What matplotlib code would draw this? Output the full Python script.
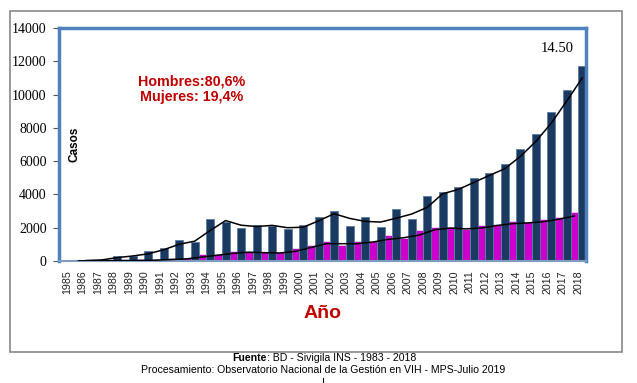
import matplotlib.pyplot as plt
import numpy as np
import pandas as pd
from matplotlib.patches import Rectangle
from matplotlib.lines import Line2D

# Data
years = list(range(1985, 2019))
hombres = [20, 40, 90, 320, 280, 580, 770, 1240, 1140, 2520, 2340, 1960, 2180, 2100, 1900,
           2160, 2660, 3020, 2100, 2660, 2020, 3120, 2520, 3920, 4160, 4430, 5000, 5270,
           5810, 6730, 7610, 8930, 10270, 11710]
mujeres = [5, 10, 20, 30, 30, 40, 60, 120, 140, 340, 360, 560, 500, 500, 460,
           700, 920, 1160, 920, 1160, 1120, 1480, 1320, 1800, 1960, 2000, 1860, 2100,
           2160, 2320, 2260, 2460, 2560, 2860]

W, H = 637, 383
fig = plt.figure(figsize=(W / 100, H / 100), dpi=100)

# outer chart frame
fig.patches.append(Rectangle((10 / W, 1 - 352 / H), 612 / W, 341 / H, transform=fig.transFigure,
                             fill=False, edgecolor='#878787', linewidth=1.2))

ax = fig.add_axes([59 / W, 1 - 261 / H, 527 / W, 233 / H])

x = np.arange(len(years))
ax.bar(x - 0.25, mujeres, width=0.5, color='#CC00CC', edgecolor='#B000B0', linewidth=0.3, zorder=2)
ax.bar(x + 0.25, hombres, width=0.5, color='#1B3A62', edgecolor='#5B7BA3', linewidth=0.6, zorder=2)

# 2-period moving average trend lines
ma_h = pd.Series(hombres).rolling(2).mean()
ma_m = pd.Series(mujeres).rolling(2).mean()
ax.plot(x[1:] + 0.25, ma_h[1:], color='black', linewidth=1.1, zorder=3)
ax.plot(x[1:] - 0.25, ma_m[1:], color='black', linewidth=1.1, zorder=3)

ax.set_xlim(-0.5, len(years) - 0.5)
ax.set_ylim(0, 14000)
ax.set_yticks(range(0, 14001, 2000))
ax.set_yticklabels([str(v) for v in range(0, 14001, 2000)], family='Liberation Serif', fontsize=10)
ax.set_xticks(x)
ax.set_xticklabels([str(y) for y in years], rotation=90, family='Liberation Sans', fontsize=7.7,
                   color='#222222')
ax.tick_params(axis='x', length=0, pad=6.5)
ax.tick_params(axis='y', length=4, width=0.8, color='#555555', pad=5)

for s in ['left', 'top', 'right']:
    ax.spines[s].set_color('#4F81BD')
    ax.spines[s].set_linewidth(2.5)
ax.spines['bottom'].set_color('#7F9CC0')
ax.spines['bottom'].set_linewidth(1.5)

ax.text(0.03, 0.5, 'Casos', transform=ax.transAxes, rotation=90, ha='center', va='center',
        family='Liberation Sans', fontweight='bold', fontsize=8.5)

fig.text(192 / W, 1 - 89 / H, 'Hombres:80,6%\nMujeres: 19,4%', ha='center', va='center',
         family='Liberation Sans', fontweight='bold', fontsize=10.3, color='#C00000', linespacing=1.1)
fig.text(557 / W, 1 - 49 / H, '14.50', ha='center', va='center', family='Liberation Serif', fontsize=10.5)
fig.text(323 / W, 1 - 313 / H, 'Año', ha='center', va='center', family='Liberation Sans',
         fontweight='bold', fontsize=14, color='#C00000')

# footer
fig.text(267 / W, 1 - 358 / H, 'Fuente', ha='right', va='center', family='Liberation Sans',
         fontweight='bold', fontsize=7.6)
fig.text(267 / W, 1 - 358 / H, ': BD - Sivigila INS - 1983 - 2018', ha='left', va='center',
         family='Liberation Sans', fontsize=7.6)
fig.text(323 / W, 1 - 370 / H, 'Procesamiento: Observatorio Nacional de la Gestión en VIH - MPS-Julio 2019',
         ha='center', va='center', family='Liberation Sans', fontsize=7.6)
fig.lines.append(Line2D([323 / W, 323 / W], [0, 5 / H], transform=fig.transFigure, color='black', linewidth=0.8))

fig.savefig('out.png', dpi=100)
